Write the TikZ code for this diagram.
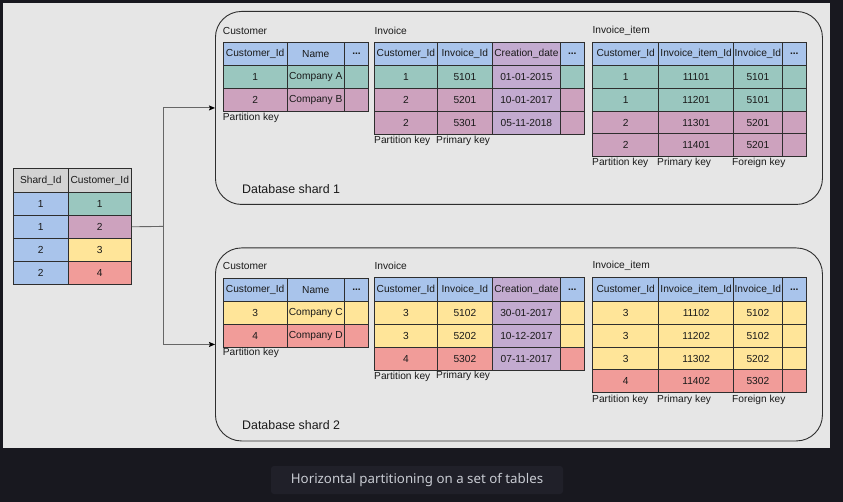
\documentclass[tikz,border=0pt]{standalone}
\usepackage{fontspec}
\setmainfont{Liberation Sans}
\newfontfamily\capfont{Noto Sans}
\usetikzlibrary{arrows.meta}
\definecolor{dark}{HTML}{18181F}
\definecolor{capbg}{HTML}{202029}
\definecolor{captxt}{HTML}{C9CCD3}
\definecolor{bg}{HTML}{E6E6E6}
\definecolor{hb}{HTML}{A9C4EB}
\definecolor{hg}{HTML}{D3D3D3}
\definecolor{gr}{HTML}{9AC7BF}
\definecolor{pu}{HTML}{CDA2BE}
\definecolor{lv}{HTML}{C3ABD0}
\definecolor{ye}{HTML}{FFE599}
\definecolor{rd}{HTML}{F19C99}
\definecolor{ink}{HTML}{1A1A1A}
\definecolor{edge}{HTML}{2E2E2E}
\tikzset{
  cell/.style={draw=edge, line width=0.8pt, inner sep=0pt, anchor=north west,
    font=\fontsize{10.2}{12}\selectfont, text=ink, align=center},
  lbl/.style={anchor=west, inner sep=0pt, font=\fontsize{10.2}{12}\selectfont, text=ink},
  shardbox/.style={draw=edge, line width=0.9pt, rounded corners=26pt, fill=bg,
    minimum width=607pt, minimum height=193pt, anchor=north west, inner sep=0pt},
  shardlbl/.style={anchor=west, inner sep=0pt, font=\fontsize{12.4}{14}\selectfont, text=ink},
  conn/.style={draw=black!60, line width=0.9pt},
  tip/.style={-{Stealth[length=6pt,width=5pt,inset=1pt,color=black]}}
}
\newcommand\dd{\textbf{...}}
\begin{document}
\begin{tikzpicture}[x=1pt,y=-1pt]
\fill[dark] (0,0) rectangle (843,502);
\fill[bg] (3,3) rectangle (830,448.3);
\useasboundingbox (0,0) rectangle (843,502);
% caption
\node[fill=capbg, rounded corners=3pt, minimum width=292pt, minimum height=28pt, inner sep=0pt,
  text=captxt, font=\capfont\fontsize{13.3}{15}\selectfont] (cap) at (417,480) {Horizontal partitioning on a set of tables};

% shard boxes
\node[shardbox] (shard1) at (215,11) {};
\node[shardbox] (shard2) at (215,247.5) {};
\node[shardlbl] (s1lbl) at (242,189) {Database shard 1};
\node[shardlbl] (s2lbl) at (242,425) {Database shard 2};

% left table
\foreach \x/\w/\f/\t [count=\i] in {13/54.7/hg/Shard\_Id, 67.7/63.3/hg/Customer\_Id}
  \node[cell, fill=\f, minimum width=\w, minimum height=23.4] (lt-0-\i) at (\x,168.3) {\t};
\foreach \y/\a/\f/\b [count=\r] in {191.7/1/gr/1, 214.8/1/pu/2, 237.8/2/ye/3, 261/2/rd/4}{
  \node[cell, fill=hb, minimum width=54.7, minimum height=23.2] (lt-\r-1) at (13,\y) {\a};
  \node[cell, fill=\f, minimum width=63.3, minimum height=23.2] (lt-\r-2) at (67.7,\y) {\b};
}

% connectors
\coordinate (jn) at (163.3,226.4);
\draw[conn] (lt-2-2.east) -- (jn);
\draw[conn, tip] (jn) |- (shard1.west);
\draw[conn, tip] (jn) |- (shard2.west);

% ===== Shard 1 =====
\node[lbl] (s1cT) at (222.7,30.7) {Customer};
\foreach \x/\w/\f/\t [count=\i] in {222.7/64/hb/Customer\_Id, 286.7/57.3/hb/Name, 344/24.3/hb/\dd}
  \node[cell, fill=\f, minimum width=\w, minimum height=22.7] (s1c-0-\i) at (\x,42.3) {\t};
\foreach \x/\w/\f/\t [count=\i] in {222.7/64/gr/1, 286.7/57.3/gr/Company A, 344/24.3/gr/}
  \node[cell, fill=\f, minimum width=\w, minimum height=23.3] (s1c-1-\i) at (\x,65) {\t};
\foreach \x/\w/\f/\t [count=\i] in {222.7/64/pu/2, 286.7/57.3/pu/Company B, 344/24.3/pu/}
  \node[cell, fill=\f, minimum width=\w, minimum height=22.7] (s1c-2-\i) at (\x,88.3) {\t};
\node[lbl] (s1cK) at (222.7,118) {Partition key};

\node[lbl] (s1iT) at (374.3,30.7) {Invoice};
\foreach \x/\w/\f/\t [count=\i] in {374.3/62.4/hb/Customer\_Id, 436.7/55.6/hb/Invoice\_Id, 492.3/67.4/lv/Creation\_date, 559.7/24.3/hb/\dd}
  \node[cell, fill=\f, minimum width=\w, minimum height=22.7] (s1i-0-\i) at (\x,42.3) {\t};
\foreach \y/\f/\a/\b/\c [count=\r] in {65/gr/1/5101/01-01-2015, 87.7/pu/2/5201/10-01-2017, 110.7/pu/2/5301/05-11-2018}{
  \node[cell, fill=\f, minimum width=62.4, minimum height=23] (s1i-\r-1) at (374.3,\y) {\a};
  \node[cell, fill=\f, minimum width=55.6, minimum height=23] (s1i-\r-2) at (436.7,\y) {\b};
  \node[cell, fill=lv, minimum width=67.4, minimum height=23] (s1i-\r-3) at (492.3,\y) {\c};
  \node[cell, fill=\f, minimum width=24.3, minimum height=23] (s1i-\r-4) at (559.7,\y) {};
}
\node[lbl] (s1iK1) at (374,141) {Partition key};
\node[lbl] (s1iK2) at (436,141) {Primary key};

\node[lbl] (s1tT) at (592.3,30.7) {Invoice\_item};
\foreach \x/\w/\f/\t [count=\i] in {592.3/66/hb/Customer\_Id, 658.3/75/hb/Invoice\_item\_Id, 733.3/48.4/hb/Invoice\_Id, 781.7/24.3/hb/\dd}
  \node[cell, fill=\f, minimum width=\w, minimum height=23.3] (s1t-0-\i) at (\x,41.7) {\t};
\foreach \y/\f/\a/\b/\c [count=\r] in {65/gr/1/11101/5101, 87.7/gr/1/11201/5101, 110.7/pu/2/11301/5201, 133.3/pu/2/11401/5201}{
  \node[cell, fill=\f, minimum width=66, minimum height=23] (s1t-\r-1) at (592.3,\y) {\a};
  \node[cell, fill=\f, minimum width=75, minimum height=23] (s1t-\r-2) at (658.3,\y) {\b};
  \node[cell, fill=\f, minimum width=48.4, minimum height=23] (s1t-\r-3) at (733.3,\y) {\c};
  \node[cell, fill=\f, minimum width=24.3, minimum height=23] (s1t-\r-4) at (781.7,\y) {};
}
\node[lbl] (s1tK1) at (592,163.3) {Partition key};
\node[lbl] (s1tK2) at (657,163.3) {Primary key};
\node[lbl] (s1tK3) at (732,163.3) {Foreign key};

% ===== Shard 2 =====
\node[lbl] (s2cT) at (222.7,266.3) {Customer};
\foreach \x/\w/\f/\t [count=\i] in {222.7/64/hb/Customer\_Id, 286.7/57.3/hb/Name, 344/24.3/hb/\dd}
  \node[cell, fill=\f, minimum width=\w, minimum height=22.7] (s2c-0-\i) at (\x,278.3) {\t};
\foreach \x/\w/\f/\t [count=\i] in {222.7/64/ye/3, 286.7/57.3/ye/Company C, 344/24.3/ye/}
  \node[cell, fill=\f, minimum width=\w, minimum height=23.3] (s2c-1-\i) at (\x,301) {\t};
\foreach \x/\w/\f/\t [count=\i] in {222.7/64/rd/4, 286.7/57.3/rd/Company D, 344/24.3/rd/}
  \node[cell, fill=\f, minimum width=\w, minimum height=23] (s2c-2-\i) at (\x,324.3) {\t};
\node[lbl] (s2cK) at (222.7,353.3) {Partition key};

\node[lbl] (s2iT) at (374.3,265.7) {Invoice};
\foreach \x/\w/\f/\t [count=\i] in {374.3/62.4/hb/Customer\_Id, 436.7/55.6/hb/Invoice\_Id, 492.3/67.4/lv/Creation\_date, 559.7/24.3/hb/\dd}
  \node[cell, fill=\f, minimum width=\w, minimum height=23.4] (s2i-0-\i) at (\x,277.3) {\t};
\foreach \y/\f/\a/\b/\c [count=\r] in {300.7/ye/3/5102/30-01-2017, 324/ye/3/5202/10-12-2017, 346.7/rd/4/5302/07-11-2017}{
  \node[cell, fill=\f, minimum width=62.4, minimum height=23] (s2i-\r-1) at (374.3,\y) {\a};
  \node[cell, fill=\f, minimum width=55.6, minimum height=23] (s2i-\r-2) at (436.7,\y) {\b};
  \node[cell, fill=lv, minimum width=67.4, minimum height=23] (s2i-\r-3) at (492.3,\y) {\c};
  \node[cell, fill=\f, minimum width=24.3, minimum height=23] (s2i-\r-4) at (559.7,\y) {};
}
\node[lbl] (s2iK1) at (374,377) {Partition key};
\node[lbl] (s2iK2) at (436,376) {Primary key};

\node[lbl] (s2tT) at (592.3,266.3) {Invoice\_item};
\foreach \x/\w/\f/\t [count=\i] in {592.3/66/hb/Customer\_Id, 658.3/75/hb/Invoice\_item\_Id, 733.3/48.4/hb/Invoice\_Id, 781.7/24.3/hb/\dd}
  \node[cell, fill=\f, minimum width=\w, minimum height=23.4] (s2t-0-\i) at (\x,277.3) {\t};
\foreach \y/\f/\a/\b/\c [count=\r] in {300.7/ye/3/11102/5102, 324/ye/3/11202/5102, 346.7/ye/3/11302/5202, 369.3/rd/4/11402/5302}{
  \node[cell, fill=\f, minimum width=66, minimum height=23] (s2t-\r-1) at (592.3,\y) {\a};
  \node[cell, fill=\f, minimum width=75, minimum height=23] (s2t-\r-2) at (658.3,\y) {\b};
  \node[cell, fill=\f, minimum width=48.4, minimum height=23] (s2t-\r-3) at (733.3,\y) {\c};
  \node[cell, fill=\f, minimum width=24.3, minimum height=23] (s2t-\r-4) at (781.7,\y) {};
}
\node[lbl] (s2tK1) at (592,400) {Partition key};
\node[lbl] (s2tK2) at (657,400) {Primary key};
\node[lbl] (s2tK3) at (732,400) {Foreign key};
\end{tikzpicture}
\end{document}
